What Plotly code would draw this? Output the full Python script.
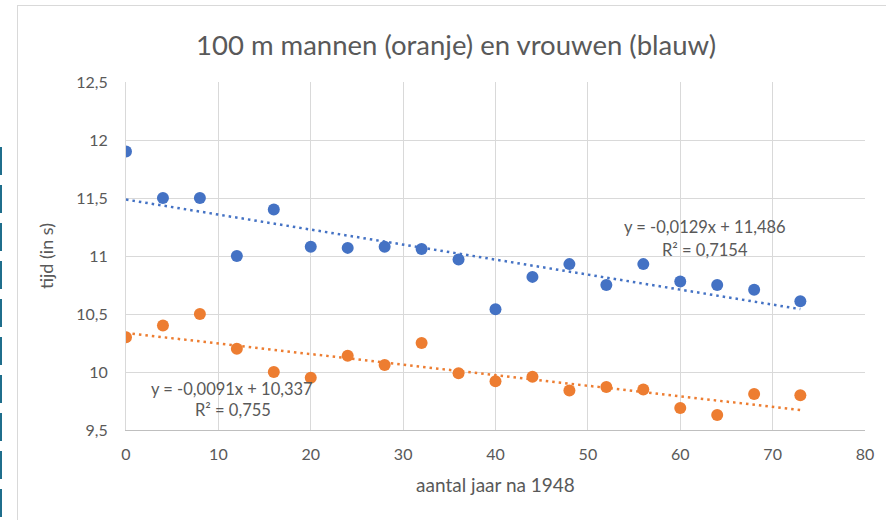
import numpy as np
import plotly.graph_objects as go

# ---- data ----
years_after_1948 = [0, 4, 8, 12, 16, 20, 24, 28, 32, 36, 40, 44, 48, 52, 56, 60, 64, 68, 73]
women_times = [11.9, 11.5, 11.5, 11.0, 11.4, 11.08, 11.07, 11.08, 11.06, 10.97,
               10.54, 10.82, 10.93, 10.75, 10.93, 10.78, 10.75, 10.71, 10.61]
men_times = [10.3, 10.4, 10.5, 10.2, 10.0, 9.95, 10.14, 10.06, 10.25, 9.99,
             9.92, 9.96, 9.84, 9.87, 9.85, 9.69, 9.63, 9.81, 9.80]

title_text = "100 m mannen (oranje) en vrouwen (blauw)"
x_title = "aantal jaar na 1948"
y_title = "tijd (in s)"
women_eq = ["y = -0,0129x + 11,486", "R² = 0,7154"]
men_eq = ["y = -0,0091x + 10,337", "R² = 0,755"]

BLUE = "#4472C4"
ORANGE = "#ED7D31"
GREY_TXT = "#595959"
GRID = "#D9D9D9"
FONT = "Lato"

W, H = 886, 520
L, R, T, B = 126, 21, 82, 90
pw, ph = W - L - R, H - T - B


def px_x(p):
    return (p - L) / pw


def px_y(p):
    return (H - B - p) / ph


x = np.array(years_after_1948, dtype=float)
xs = np.array([x.min(), x.max()])

fig = go.Figure()
for ys, col in ((women_times, BLUE), (men_times, ORANGE)):
    m, c = np.polyfit(x, np.array(ys), 1)
    fig.add_trace(go.Scatter(x=xs, y=m * xs + c, mode="lines",
                             line=dict(color=col, width=2.5, dash="2.5px,4px"),
                             hoverinfo="skip", showlegend=False))
for ys, col in ((women_times, BLUE), (men_times, ORANGE)):
    fig.add_trace(go.Scatter(x=years_after_1948, y=ys, mode="markers",
                             marker=dict(color=col, size=12, line=dict(width=0)),
                             showlegend=False))

annos = []
for txt, cx, cy in ((women_eq[0], 705, 227), (women_eq[1], 705, 250),
                    (men_eq[0], 232, 389), (men_eq[1], 233, 410)):
    annos.append(dict(text=txt, xref="paper", yref="paper", x=px_x(cx), y=px_y(cy),
                      xanchor="center", yanchor="middle", showarrow=False,
                      font=dict(family=FONT, size=16.5, color=GREY_TXT)))

shapes = [
    # chart frame
    dict(type="line", xref="paper", yref="paper", x0=px_x(17.5), x1=px_x(17.5),
         y0=px_y(5), y1=px_y(530), line=dict(color="#D9D9D9", width=1)),
    dict(type="line", xref="paper", yref="paper", x0=px_x(17), x1=px_x(900),
         y0=px_y(5.5), y1=px_y(5.5), line=dict(color="#D9D9D9", width=1)),
    # selection handle edge
    dict(type="line", xref="paper", yref="paper", x0=px_x(1), x1=px_x(1),
         y0=px_y(147), y1=px_y(525), line=dict(color="#1F6E8C", width=2, dash="28px,10px")),
]

fig.update_layout(
    width=W, height=H,
    margin=dict(l=L, r=R, t=T, b=B),
    paper_bgcolor="white", plot_bgcolor="white",
    separators=", ",
    font=dict(family=FONT, color=GREY_TXT, size=16),
    title=dict(text=title_text, xref="container", yref="container",
               x=456 / W, y=1 - 45 / H, xanchor="center", yanchor="middle",
               font=dict(family=FONT, size=27.5, color=GREY_TXT)),
    xaxis=dict(range=[0, 80], dtick=10, tick0=0, showgrid=True, gridcolor=GRID,
               gridwidth=1, zeroline=False, showline=True, linecolor="#BFBFBF",
               mirror=False, ticks="", tickfont=dict(size=16, color=GREY_TXT),
               ticklabelstandoff=10,
               title=dict(text=x_title, font=dict(size=19, color=GREY_TXT), standoff=16)),
    yaxis=dict(range=[9.5, 12.5], dtick=0.5, tick0=9.5, showgrid=True, gridcolor=GRID,
               gridwidth=1, zeroline=False, showline=True, linecolor="#D9D9D9",
               ticks="", tickfont=dict(size=16, color=GREY_TXT), ticklabelstandoff=14,
               title=dict(text=y_title, font=dict(size=18, color=GREY_TXT), standoff=18)),
    annotations=annos,
    shapes=shapes,
)

fig.write_html("out.html", config={"displayModeBar": False},
               post_script="document.body.style.margin='0';")
